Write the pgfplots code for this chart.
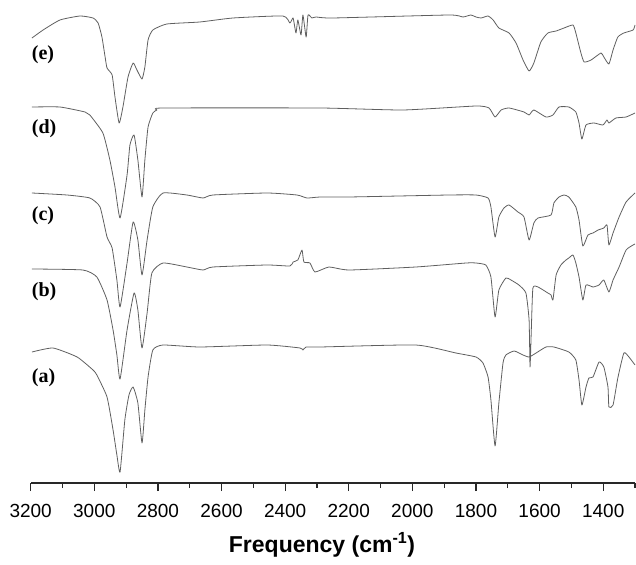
\documentclass[border=0pt]{standalone}
\usepackage{fontspec}
\setmainfont{Liberation Sans}
\newfontfamily\timesfont{Liberation Serif}
\usepackage{pgfplots}
\pgfplotsset{compat=1.18}

\definecolor{spec}{RGB}{95,95,95}
\definecolor{axline}{RGB}{40,40,40}

\begin{document}
\begin{tikzpicture}
\useasboundingbox (-30.7pt,-81pt) rectangle (605.3pt,483pt);
\begin{axis}[
    scale only axis,
    width=604.3pt, height=483pt,
    x dir=reverse,
    xmin=1300, xmax=3200,
    ymin=0, ymax=483,
    axis x line*=bottom,
    axis y line*=left,
    y axis line style={draw=none},
    ytick=\empty,
    x axis line style={-, line width=1.4pt, axline},
    xmajorticks=true, xminorticks=true,
    xtick={3200,3000,...,1400},
    minor xtick={3100,2900,...,1300},
    tick align=outside,
    major tick length=8pt,
    minor tick length=5pt,
    xtick style={line width=1.2pt, draw=axline},
    xticklabel style={font=\fontsize{19}{22}\selectfont, yshift=-10pt},
    /pgf/number format/assume math mode=true,
    /pgf/number format/1000 sep={},
    xlabel={\textbf{Frequency (cm\textsuperscript{-1})}},
    xlabel style={font=\fontsize{23}{26}\selectfont, at={(axis description cs:0.482,0)}, anchor=center, yshift=-62pt},
    clip=false,
    spectrum/.style={spec, line width=0.8pt, line join=round, mark=none, smooth, tension=0.3},
]
% (e)
\addplot[spectrum] coordinates {
(3196,445) (3161,453) (3108,463) (3045,467) (3004,465) (2988,460) (2976,446)
(2966,426) (2960,415) (2944,408) (2935,386) (2922,360) (2910,376) (2894,406)
(2878,420) (2866,413) (2850,404) (2841,416) (2831,443) (2816,453) (2772,459)
(2668,461) (2564,465) (2407,467) (2385,460) (2375,465) (2366,450) (2360,463)
(2350,448) (2344,468) (2334,446) (2328,468) (2316,465) (2303,466) (2250,465)
(1885,468) (1841,466) (1816,468) (1800,466) (1784,465) (1762,467) (1746,463)
(1728,455) (1696,450) (1674,440) (1652,423) (1633,412) (1618,420) (1596,441)
(1574,450) (1548,452) (1523,455) (1495,458) (1486,450) (1470,430) (1460,421)
(1438,423) (1407,430) (1398,426) (1382,419) (1369,433) (1354,446) (1335,450)
(1306,453) (1300,458)
};
% (d)
\addplot[spectrum] coordinates {
(3196,376) (3108,376) (3029,371) (3014,368) (2973,350) (2951,323) (2935,296)
(2919,265) (2897,308) (2888,338) (2875,348) (2863,323) (2850,286) (2841,323)
(2831,356) (2816,370) (2803,373) (2784,375) (2290,375) (2030,373) (1800,377)
(1759,375) (1740,366) (1721,373) (1696,375) (1649,371) (1633,368) (1618,373)
(1580,366) (1558,368) (1539,376) (1508,376) (1486,371) (1476,360) (1467,344)
(1454,358) (1429,360) (1401,358) (1388,363) (1382,360) (1360,365) (1328,366)
(1300,370)
};
% (c)
\addplot[spectrum] coordinates {
(3196,290) (3086,288) (3014,285) (2982,276) (2960,246) (2944,235) (2929,203)
(2919,176) (2897,220) (2878,261) (2863,243) (2850,208) (2834,243) (2816,276)
(2784,290) (2709,288) (2658,285) (2627,288) (2457,290) (2363,288) (2331,285)
(2290,286) (2199,286) (1885,288) (1800,288) (1762,285) (1753,276) (1740,246)
(1728,266) (1712,275) (1696,278) (1668,271) (1649,266) (1633,243) (1618,260)
(1605,265) (1564,268) (1555,280) (1539,286) (1523,288) (1508,286) (1486,276)
(1476,263) (1464,237) (1448,248) (1432,250) (1416,253) (1398,255) (1388,258)
(1382,238) (1369,250) (1350,266) (1328,281) (1300,290)
};
% (b)
\addplot[spectrum] coordinates {
(3196,214) (3036,213) (2992,206) (2960,183) (2941,153) (2929,128) (2919,104)
(2897,153) (2875,190) (2863,173) (2850,135) (2834,170) (2819,210) (2784,220)
(2709,216) (2658,213) (2627,216) (2457,218) (2385,217) (2375,221) (2360,223)
(2347,233) (2341,221) (2322,220) (2306,211) (2262,216) (2199,213) (1989,216)
(1831,220) (1800,220) (1769,218) (1753,206) (1740,166) (1728,193) (1706,205)
(1690,203) (1665,198) (1643,190) (1633,163) (1630,116) (1626,153) (1621,195)
(1605,196) (1574,190) (1564,188) (1558,183) (1548,208) (1533,218) (1517,223)
(1508,225) (1495,228) (1486,220) (1476,206) (1464,183) (1454,198) (1432,196)
(1413,198) (1398,203) (1382,191) (1369,203) (1350,216) (1328,233) (1306,238)
(1300,239)
};
% (a)
\addplot[spectrum] coordinates {
(3196,131) (3130,135) (3054,126) (3004,113) (2992,108) (2960,86) (2941,53)
(2929,28) (2919,11) (2904,63) (2891,88) (2878,96) (2863,80) (2850,40)
(2841,73) (2831,106) (2816,133) (2784,138) (2668,136) (2457,138) (2353,135)
(2344,133) (2334,136) (2290,136) (1989,138) (1863,130) (1800,126) (1778,120)
(1762,106) (1753,83) (1740,37) (1728,80) (1715,120) (1706,128) (1680,132)
(1652,128) (1633,126) (1611,130) (1580,136) (1555,136) (1508,131) (1486,123)
(1476,103) (1467,78) (1454,96) (1445,105) (1432,106) (1413,121) (1398,116)
(1385,96) (1382,76) (1369,78) (1354,105) (1335,130) (1319,126) (1300,118)
};
\begin{scope}[every node/.style={font=\timesfont\bfseries\fontsize{20}{24}\selectfont, anchor=west, inner sep=0pt}]
\node at (axis cs:3197,428) {(e)};
\node at (axis cs:3197,354) {(d)};
\node at (axis cs:3197,267) {(c)};
\node at (axis cs:3197,191) {(b)};
\node at (axis cs:3197,105) {(a)};
\end{scope}
\end{axis}
\end{tikzpicture}
\end{document}
